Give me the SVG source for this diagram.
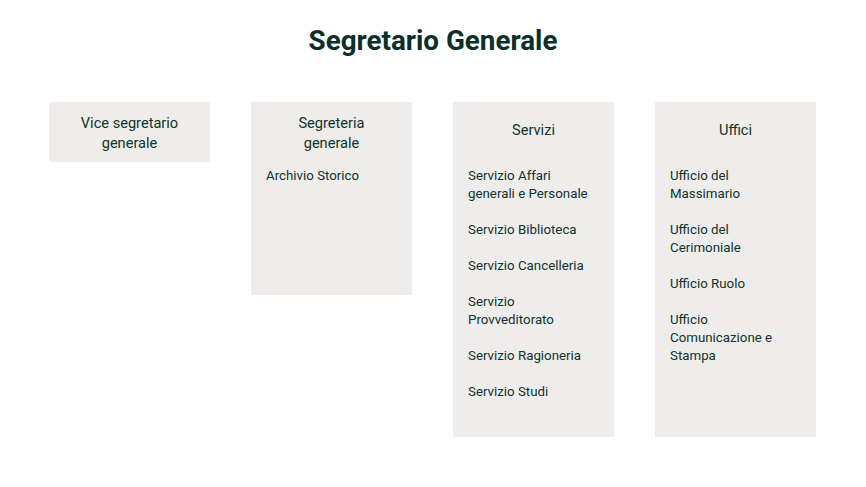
<svg xmlns="http://www.w3.org/2000/svg" width="866" height="487" viewBox="0 0 866 487">
<style>
.box{fill:#EFEDEB;}
.t{font-family:Roboto,"Liberation Sans",sans-serif;fill:#10332D;}
.h{font-size:14.6px;text-anchor:middle;}
.i{font-size:13.3px;}
.title{font-size:27.8px;font-weight:bold;text-anchor:middle;fill:#0C2F2A;}
</style>
<rect width="866" height="487" fill="#ffffff"/>
<text class="t title" x="433" y="50">Segretario Generale</text>
<g id="connectors"></g>
<g id="vice">
<rect class="box" x="49" y="102" width="161" height="60"/>
<text class="t h" x="129.5" y="128">Vice segretario</text>
<text class="t h" x="129.5" y="148">generale</text>
</g>
<g id="segreteria">
<rect class="box" x="251" y="102" width="161" height="193"/>
<text class="t h" x="331.5" y="128">Segreteria</text>
<text class="t h" x="331.5" y="148">generale</text>
<text class="t i" x="266" y="180">Archivio Storico</text>
</g>
<g id="servizi">
<rect class="box" x="453" y="102" width="161" height="335"/>
<text class="t h" x="533.5" y="135">Servizi</text>
<text class="t i" x="468" y="180">Servizio Affari</text>
<text class="t i" x="468" y="198">generali e Personale</text>
<text class="t i" x="468" y="234">Servizio Biblioteca</text>
<text class="t i" x="468" y="270">Servizio Cancelleria</text>
<text class="t i" x="468" y="306">Servizio</text>
<text class="t i" x="468" y="324">Provveditorato</text>
<text class="t i" x="468" y="360">Servizio Ragioneria</text>
<text class="t i" x="468" y="396">Servizio Studi</text>
</g>
<g id="uffici">
<rect class="box" x="655" y="102" width="161" height="335"/>
<text class="t h" x="735.5" y="135">Uffici</text>
<text class="t i" x="670" y="180">Ufficio del</text>
<text class="t i" x="670" y="198">Massimario</text>
<text class="t i" x="670" y="234">Ufficio del</text>
<text class="t i" x="670" y="252">Cerimoniale</text>
<text class="t i" x="670" y="288">Ufficio Ruolo</text>
<text class="t i" x="670" y="324">Ufficio</text>
<text class="t i" x="670" y="342">Comunicazione e</text>
<text class="t i" x="670" y="360">Stampa</text>
</g>
</svg>
